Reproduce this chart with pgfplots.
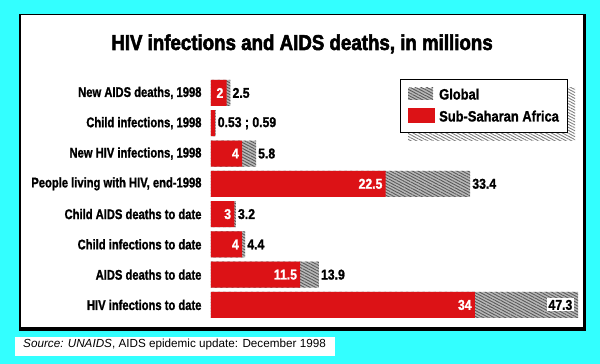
\documentclass[border=0pt]{standalone}
\usepackage{fontspec}
\setmainfont{Liberation Sans}
\newfontfamily\condfont{Liberation Sans Bold}[FakeStretch=0.8, RawFeature={embolden=1.2}]
\newfontfamily\valfont{Liberation Sans Bold}[FakeStretch=0.86, RawFeature={embolden=1.2}]
\newfontfamily\legfont{Liberation Sans Bold}[FakeStretch=0.86, RawFeature={embolden=1.2}]
\newfontfamily\titlefont{Liberation Sans Bold}[FakeStretch=0.87, RawFeature={embolden=2.5}]
\usepackage{pgfplots}
\pgfplotsset{compat=1.18}
\usetikzlibrary{patterns,patterns.meta}
\definecolor{bgcyan}{RGB}{51,255,255}
\definecolor{barred}{RGB}{220,18,22}
\definecolor{hatchgray}{RGB}{185,185,185}
\DeclareRobustCommand\semi{;}
\tikzset{hatch/.style={pattern={Lines[angle=-28, distance=2.6pt, line width=0.9pt]}, pattern color=black!65}}
\begin{document}
\begin{tikzpicture}[x=1pt,y=1pt]
\useasboundingbox (0,0) rectangle (600,364);
\fill[bgcyan] (0,0) rectangle (600,364);
% panel with shadow
\fill[black] (19,33) rectangle (586,350);
\fill[white] (20.5,37) rectangle (583,348.5);
% source box
\fill[white] (15,8) rectangle (335,27);
\node[anchor=base west, inner sep=0pt, font=\fontsize{11.7}{14}\selectfont] at (23,16.5) {\textit{Source: UNAIDS}, AIDS epidemic update: December 1998};
% title
\node[anchor=base, inner sep=0pt, font=\titlefont\fontsize{21.5}{25}\selectfont] at (302,314) {HIV infections and AIDS deaths, in millions};
\begin{axis}[
  at={(211pt,43.9pt)}, anchor=south west,
  scale only axis, width=367pt, height=242.3pt,
  xmin=0, xmax=47.3, ymin=-0.5, ymax=7.5,
  axis line style={draw=none}, tick style={draw=none},
  xtick=\empty, ytick={0,...,7},
  yticklabels={HIV infections to date, AIDS deaths to date, Child infections to date, Child AIDS deaths to date, {People living with HIV, end-1998}, {New HIV infections, 1998}, {Child infections, 1998}, {New AIDS deaths, 1998}},
  yticklabel style={font=\condfont\fontsize{14}{16}\selectfont, xshift=-6pt},
  clip=false,
  bar width=26pt,
]
% Global
\addplot[xbar, bar shift=0pt, draw=none, fill=hatchgray,
  postaction={hatch},
  point meta=explicit symbolic, nodes near coords,
  nodes near coords style={anchor=west, inner sep=2pt, text=black, font=\valfont\fontsize{14.2}{16}\selectfont}]
  coordinates {(47.3,0) [{}] (13.9,1) [13.9] (4.4,2) [4.4] (3.2,3) [3.2] (33.4,4) [33.4] (5.8,5) [5.8] (0.59,6) [{0.53 \semi{} 0.59}] (2.5,7) [2.5]};
% Sub-Saharan Africa
\addplot[xbar, bar shift=0pt, draw=none, fill=barred,
  point meta=explicit symbolic, nodes near coords,
  nodes near coords style={anchor=east, inner sep=3pt, text=white, font=\valfont\fontsize{14.2}{16}\selectfont}]
  coordinates {(34,0) [34] (11.5,1) [11.5] (4,2) [4] (3,3) [3] (22.5,4) [22.5] (4,5) [4] (0.53,6) [{}] (2,7) [2]};
% label of the longest global bar
\addplot[draw=none, mark=none, point meta=explicit symbolic, nodes near coords,
  nodes near coords style={anchor=east, xshift=-4pt, fill=white, inner sep=1.5pt, text=black, font=\valfont\fontsize{14.2}{16}\selectfont}]
  coordinates {(47.3,0) [47.3]};
\end{axis}
% legend
\fill[white] (408,223) rectangle (575,276);
\fill[hatch, pattern color=black!50] (408,223) rectangle (575,276);
\draw[black, line width=1pt, fill=white] (400,231) rectangle (567,284);
\fill[hatchgray] (408,264) rectangle (433,276);
\fill[hatch] (408,264) rectangle (433,276);
\fill[barred] (408,241) rectangle (435,256);
\node[anchor=base west, inner sep=0pt, font=\legfont\fontsize{15}{18}\selectfont] at (439,264.5) {Global};
\node[anchor=base west, inner sep=0pt, font=\legfont\fontsize{15}{18}\selectfont] at (439,242.5) {Sub-Saharan Africa};
\end{tikzpicture}
\end{document}
